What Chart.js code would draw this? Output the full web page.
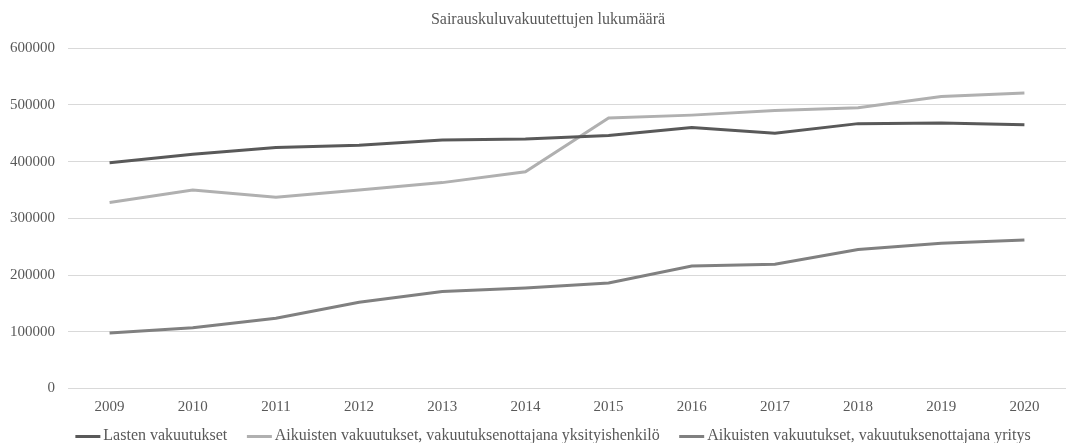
<!DOCTYPE html>
<html lang="fi">
<head>
  <meta charset="UTF-8" />
  <title>Sairauskuluvakuutettujen lukumäärä</title>
  <script src="https://cdn.jsdelivr.net/npm/chart.js"></script>
  <style>
    html, body { margin: 0; padding: 0; background: #fff; overflow: hidden; }
    #wrap { width: 1073px; height: 443px; overflow: hidden; }
  </style>
</head>
<body>
  <div id="wrap"><canvas id="kaavio" width="1073" height="454"></canvas></div>
  <script>
    // Vuodet ja sarjat
    const vuodet = ["2009", "2010", "2011", "2012", "2013", "2014", "2015", "2016", "2017", "2018", "2019", "2020"];
    const lasten = [398000, 413000, 425000, 429000, 438000, 440000, 446000, 460000, 450000, 467000, 468000, 465000];
    const aikuisetYksityinen = [328000, 350000, 337000, 350000, 363000, 382000, 477000, 482000, 490000, 495000, 515000, 521000];
    const aikuisetYritys = [98000, 107000, 124000, 152000, 171000, 177000, 186000, 216000, 219000, 245000, 256000, 262000];

    const fontti = "'Liberation Serif', 'Times New Roman', serif";
    const tekstiVari = "#595959";

    // selitteen viivamerkki: näkyvä viiva 25x3 px, vasemmalla läpinäkyvä väli
    function viivaMerkki(vari) {
      const c = document.createElement("canvas");
      c.width = 52;
      c.height = 3;
      const g = c.getContext("2d");
      g.fillStyle = vari;
      g.fillRect(25, 0, 25, 3);
      return c;
    }

    function sarja(nimi, arvot, vari) {
      return {
        label: nimi,
        data: arvot,
        borderColor: vari,
        backgroundColor: vari,
        borderWidth: 3,
        pointRadius: 0,
        pointStyle: viivaMerkki(vari),
        tension: 0,
        fill: false
      };
    }

    // otsikkoa ja selitettä hieman oikealle
    const siirrot = {
      id: "siirrot",
      afterLayout(chart) {
        if (chart.titleBlock) {
          chart.titleBlock.left += 10;
          chart.titleBlock.right += 10;
        }
        if (chart.legend) {
          chart.legend.left += 6;
          chart.legend.right += 6;
        }
      }
    };

    const ctx = document.getElementById("kaavio").getContext("2d");
    new Chart(ctx, {
      type: "line",
      data: {
        labels: vuodet,
        datasets: [
          sarja("Lasten vakuutukset", lasten, "#595959"),
          sarja("Aikuisten vakuutukset, vakuutuksenottajana yksityishenkilö", aikuisetYksityinen, "#b0b0b0"),
          sarja("Aikuisten vakuutukset, vakuutuksenottajana yritys", aikuisetYritys, "#808080")
        ]
      },
      plugins: [siirrot],
      options: {
        responsive: false,
        animation: false,
        layout: { padding: { left: 10, right: 7, top: 6, bottom: 0 } },
        plugins: {
          title: {
            display: true,
            text: "Sairauskuluvakuutettujen lukumäärä",
            color: tekstiVari,
            font: { family: fontti, size: 16, weight: "normal" },
            padding: { top: 4, bottom: 19 }
          },
          legend: {
            position: "bottom",
            labels: {
              usePointStyle: true,
              pointStyleWidth: 38,
              color: tekstiVari,
              font: { family: fontti, size: 16 },
              padding: 1.5
            }
          },
          tooltip: { enabled: false }
        },
        scales: {
          x: {
            offset: true,
            grid: { display: false, drawTicks: false },
            border: { display: false },
            ticks: { color: tekstiVari, font: { family: fontti, size: 15 }, maxRotation: 0, padding: 10 }
          },
          y: {
            min: 0,
            max: 600000,
            afterFit(axis) { axis.width = 58; },
            ticks: {
              stepSize: 100000,
              color: tekstiVari,
              font: { family: fontti, size: 15 },
              padding: 13,
              callback: (v) => String(v)
            },
            grid: { color: "#d9d9d9", lineWidth: 1, drawTicks: false },
            border: { display: false }
          }
        }
      }
    });
  </script>
</body>
</html>
